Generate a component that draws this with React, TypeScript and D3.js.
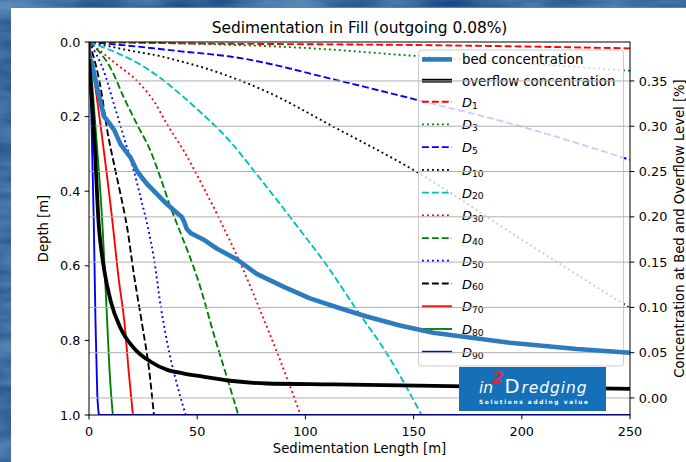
import React from 'react';
import * as d3 from 'd3';

// Axis definitions
const lengthDomain = [0, 250];
const depthDomain = [0, 1];
const concDomain = [-0.0188, 0.393];
const xTicks = [0, 50, 100, 150, 200, 250];
const depthTicks = [0, 0.2, 0.4, 0.6, 0.8, 1.0];
const concTicks = [0, 0.05, 0.1, 0.15, 0.2, 0.25, 0.3, 0.35];

// Settling paths per grain fraction: [sedimentation length m, depth m]
const pathD1 = [[0, 0], [50, 0.004], [100, 0.006], [150, 0.008], [200, 0.012], [250, 0.017]];
const pathD3 = [[0, 0], [51, 0.005], [100, 0.016], [150, 0.037], [200, 0.057], [250, 0.077]];
const pathD5 = [[0, 0], [28.5, 0.016], [42.4, 0.025], [51.3, 0.03], [65.2, 0.039], [114.4, 0.102], [151.4, 0.155], [194.5, 0.218], [250, 0.316]];
const pathD10 = [[0, 0], [20.8, 0.025], [33.1, 0.038], [42.4, 0.052], [51.3, 0.066], [65.2, 0.093], [82.1, 0.133], [112.9, 0.227], [151.4, 0.348], [200, 0.53], [250, 0.713]];
const pathD20 = [[0, 0], [13.1, 0.03], [23.9, 0.061], [33.1, 0.097], [42.4, 0.141], [51.3, 0.187], [65, 0.265], [75.9, 0.343], [95, 0.485], [110, 0.6], [123.7, 0.718], [137.6, 0.835], [153.7, 1.0]];
const pathD30 = [[0, 0], [13.1, 0.061], [22.3, 0.105], [30, 0.159], [36.2, 0.222], [43.9, 0.293], [52, 0.38], [60.5, 0.477], [71.3, 0.611], [79, 0.718], [88.3, 0.853], [97.8, 1.0]];
const pathD40 = [[0, 0], [10, 0.07], [16.2, 0.15], [22.3, 0.222], [28.5, 0.293], [33.1, 0.365], [37.8, 0.445], [41.5, 0.5], [50.5, 0.64], [58.5, 0.8], [63.8, 0.9], [69, 1.0]];
const pathD50 = [[0, 0], [6.9, 0.079], [11.6, 0.168], [16.2, 0.257], [20.8, 0.347], [23.9, 0.418], [27.3, 0.499], [30, 0.58], [33.3, 0.714], [37, 0.83], [41.6, 0.938], [44.7, 1.0]];
const pathD60 = [[0, 0], [5.4, 0.123], [8.5, 0.239], [12.3, 0.347], [14.6, 0.409], [17.7, 0.5], [20.8, 0.625], [24.6, 0.759], [27.7, 0.875], [30, 1.0]];
const pathD70 = [[0, 0], [6.1, 0.257], [11, 0.49], [13.5, 0.625], [16.5, 0.759], [18.5, 0.893], [20.3, 1.0]];
const pathD80 = [[0, 0], [3.3, 0.25], [6.3, 0.5], [8, 0.7], [9.7, 0.9], [11, 1.0]];
const pathD90 = [[0, 0], [1.1, 0.2], [2.2, 0.48], [3.0, 0.75], [3.8, 0.94], [4.6, 1.0]];

// Concentrations along the fill: [sedimentation length m, concentration %]
const bedConcentration = [[0, 0.374], [1.1, 0.372], [3.8, 0.342], [6.9, 0.311], [9.2, 0.304], [11.6, 0.296], [14.6, 0.28], [19.3, 0.265], [22.3, 0.25], [26.9, 0.236], [34.7, 0.217], [40.8, 0.204], [42.8, 0.2], [43.9, 0.195], [45.1, 0.187], [47, 0.182], [52.8, 0.175], [59, 0.165], [68.3, 0.153], [77.5, 0.137], [89.8, 0.123], [102.1, 0.11], [116, 0.099], [128.3, 0.09], [143.7, 0.08], [159.1, 0.072], [194.5, 0.061], [225.4, 0.054], [250, 0.05]];
const overflowConcentration = [[0, 0.374], [2.6, 0.28], [4.6, 0.188], [5.4, 0.169], [6.9, 0.143], [10, 0.107], [14.6, 0.077], [20.8, 0.055], [28.5, 0.04], [36.2, 0.031], [43.9, 0.027], [51.3, 0.024], [65.2, 0.019], [82.1, 0.016], [112.9, 0.015], [166.8, 0.013], [250, 0.01]];

const fractionLabels = ['1', '3', '5', '10', '20', '30', '40', '50', '60', '70', '80', '90'];
const fractionPaths = [pathD1, pathD3, pathD5, pathD10, pathD20, pathD30, pathD40, pathD50, pathD60, pathD70, pathD80, pathD90];
const fractionColors = ['#ff0000', '#008000', '#0000ff', '#000000', '#00bfbf', '#ff0000', '#008000', '#0000ff', '#000000', '#ff0000', '#008000', '#0000ff'];
const fractionStyles = ['dashed', 'dotted', 'dashed', 'dotted', 'dashed', 'dotted', 'dashed', 'dotted', 'dashed', 'solid', 'solid', 'solid'];

const W = 686;
const H = 462;
const plot = { left: 89, right: 630, top: 42, bottom: 415 };
const FONT = 'DejaVu Sans';
const LW = 1.875;
const dashFor = (s: string) => (s === 'dashed' ? '6.9,3' : s === 'dotted' ? '1.9,3.1' : undefined);

export default function App() {
  const x = d3.scaleLinear().domain(lengthDomain).range([plot.left, plot.right]);
  const yDepth = d3.scaleLinear().domain(depthDomain).range([plot.top, plot.bottom]);
  const yConc = d3.scaleLinear().domain(concDomain).range([plot.bottom, plot.top]);

  const depthLine = d3.line<number[]>().x((d) => x(d[0])).y((d) => yDepth(d[1])).curve(d3.curveMonotoneX);
  const concLine = d3.line<number[]>().x((d) => x(d[0])).y((d) => yConc(d[1]));
  const overflowLine = d3.line<number[]>().x((d) => x(d[0])).y((d) => yConc(d[1])).curve(d3.curveMonotoneX);

  const fractionPath = (pts: number[][]) => {
    const last = pts[pts.length - 1];
    let p = depthLine(pts) || '';
    if (last[1] >= depthDomain[1] && last[0] < lengthDomain[1]) {
      p += `L${x(lengthDomain[1])},${yDepth(depthDomain[1])}`;
    }
    return p;
  };

  // legend layout
  const lg = { x: 418.5, y: 50, w: 205, h: 316, hx0: 422, hx1: 452, tx: 462 };
  const rowY = (i: number) => (i < 2 ? 59.4 + i * 21.3 : 101.7 + (i - 2) * 22.73);

  return (
    <svg width={W} height={H} style={{ position: 'absolute', left: 0, top: 0 }} fontFamily={FONT}>
      <defs>
        <filter id="water" x="0" y="0" width="100%" height="100%" colorInterpolationFilters="sRGB">
          <feTurbulence type="fractalNoise" baseFrequency="0.012 0.05" numOctaves={3} seed={4} />
          <feColorMatrix type="matrix" values="0.45 0 0 0 0.02  0.45 0 0 0 0.2  0.35 0 0 0 0.45  0 0 0 0 1" />
        </filter>
        <clipPath id="plotClip">
          <rect x={plot.left} y={plot.top} width={plot.right - plot.left} height={plot.bottom - plot.top} />
        </clipPath>
      </defs>

      {/* textured blue backdrop and white figure panel */}
      <rect x={0} y={0} width={W} height={H} fill="#3566a0" />
      <rect x={0} y={0} width={W} height={H} filter="url(#water)" />
      <rect x={11} y={7} width={W - 11} height={H - 7} fill="#ffffff" />
      <line x1={11} y1={7.5} x2={W} y2={7.5} stroke="#6d7f93" strokeWidth={1} />

      {/* settling paths (left axis) */}
      <g clipPath="url(#plotClip)">
        {fractionPaths.map((pts, i) => (
          <path key={i} d={fractionPath(pts)} fill="none" stroke={fractionColors[i]} strokeWidth={LW}
            strokeDasharray={dashFor(fractionStyles[i])} />
        ))}
      </g>

      {/* left / bottom axes */}
      <g fontSize={12.8} fill="#000">
        {depthTicks.map((t) => (
          <g key={'d' + t}>
            <line x1={plot.left - 4.4} x2={plot.left} y1={yDepth(t)} y2={yDepth(t)} stroke="#000" strokeWidth={1} />
            <text x={plot.left - 8.6} y={yDepth(t) + 4.6} textAnchor="end">{t.toFixed(1)}</text>
          </g>
        ))}
        {xTicks.map((t) => (
          <g key={'x' + t}>
            <line x1={x(t)} x2={x(t)} y1={plot.bottom} y2={plot.bottom + 4.4} stroke="#000" strokeWidth={1} />
            <text x={x(t)} y={436} textAnchor="middle">{t}</text>
          </g>
        ))}
      </g>

      {/* legend */}
      <g>
        <rect x={lg.x} y={lg.y} width={lg.w} height={lg.h} rx={3} fill="#ffffff" fillOpacity={0.8} stroke="#cccccc" strokeWidth={1} />
        <line x1={lg.hx0} x2={lg.hx1} y1={rowY(0)} y2={rowY(0)} stroke="#2c7bbf" strokeWidth={4.6} />
        <text x={lg.tx} y={rowY(0) + 4.8} fontSize={13.3}>bed concentration</text>
        <line x1={lg.hx0} x2={lg.hx1} y1={rowY(1)} y2={rowY(1)} stroke="#000" strokeWidth={3.8} />
        <text x={lg.tx} y={rowY(1) + 4.8} fontSize={13.3}>overflow concentration</text>
        {fractionLabels.map((lab, i) => (
          <g key={'lg' + lab}>
            <line x1={lg.hx0} x2={lg.hx1} y1={rowY(i + 2)} y2={rowY(i + 2)} stroke={fractionColors[i]} strokeWidth={LW}
              strokeDasharray={dashFor(fractionStyles[i])} />
            <text x={lg.tx} y={rowY(i + 2) + 5} fontSize={13}>
              <tspan fontStyle="italic">D</tspan>
              <tspan fontSize={9.2} dy={1.8}>{lab}</tspan>
            </text>
          </g>
        ))}
      </g>

      {/* right axis: grid and concentrations */}
      <g>
        {concTicks.map((t) => (
          <line key={'g' + t} x1={plot.left} x2={plot.right} y1={yConc(t)} y2={yConc(t)} stroke="#b0b0b0" strokeWidth={1} />
        ))}
      </g>
      <g clipPath="url(#plotClip)">
        <path d={concLine(bedConcentration) || ''} fill="none" stroke="#2c7bbf" strokeWidth={4.6} strokeLinejoin="round" />
        <path d={overflowLine(overflowConcentration) || ''} fill="none" stroke="#000" strokeWidth={3.8} strokeLinejoin="round" />
      </g>
      <g fontSize={12.8}>
        {concTicks.map((t) => (
          <g key={'c' + t}>
            <line x1={plot.right} x2={plot.right + 4.4} y1={yConc(t)} y2={yConc(t)} stroke="#000" strokeWidth={1} />
            <text x={plot.right + 8.8} y={yConc(t) + 4.6}>{t.toFixed(2)}</text>
          </g>
        ))}
      </g>

      {/* frame */}
      <rect x={plot.left} y={plot.top} width={plot.right - plot.left} height={plot.bottom - plot.top} fill="none" stroke="#000" strokeWidth={1} />

      {/* titles */}
      <text x={(plot.left + plot.right) / 2} y={33} textAnchor="middle" fontSize={15.4}>Sedimentation in Fill (outgoing 0.08%)</text>
      <text x={(plot.left + plot.right) / 2} y={453} textAnchor="middle" fontSize={13.2}>Sedimentation Length [m]</text>
      <text transform={`translate(47.5,${(plot.top + plot.bottom) / 2}) rotate(-90)`} textAnchor="middle" fontSize={13.2}>Depth [m]</text>
      <text transform={`translate(683.5,${(plot.top + plot.bottom) / 2}) rotate(-90)`} textAnchor="middle" fontSize={13.2}>Concentration at Bed and Overflow Level [%]</text>

      {/* company logo */}
      <g>
        <rect x={459} y={367} width={147} height={44} fill="#1670b8" />
        <text x={479} y={393.3} fontSize={15.5} fontStyle="italic" fill="#ffffff">in</text>
        <text x={492} y={382.5} fontSize={16.5} fontWeight="bold" fontStyle="italic" fill="#e8262d">2</text>
        <text x={504.5} y={393.3} fontSize={19.5} fill="#ffffff">D</text>
        <text x={521.5} y={393.3} fontSize={15.5} fontStyle="italic" fill="#ffffff" textLength={65} lengthAdjust="spacing">redging</text>
        <text x={479} y={404.3} fontSize={5.8} fontWeight="bold" fill="#ffffff" textLength={109} lengthAdjust="spacing">Solutions adding value</text>
      </g>
    </svg>
  );
}
